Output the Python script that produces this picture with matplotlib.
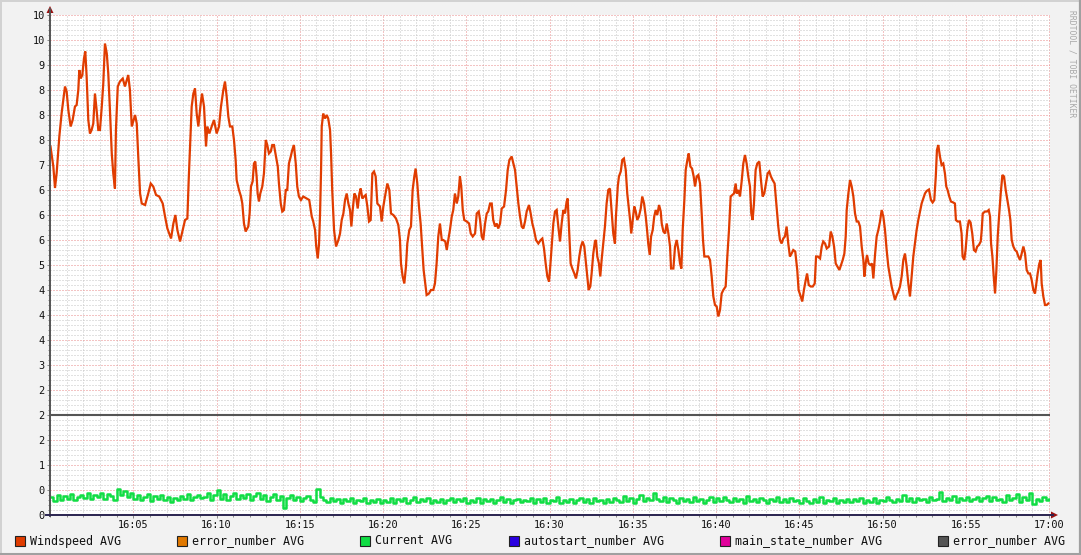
import matplotlib
matplotlib.use('Agg')
import matplotlib.pyplot as plt
from matplotlib.patches import Rectangle, Polygon
from matplotlib.lines import Line2D
from matplotlib.ticker import MultipleLocator, FuncFormatter, FixedLocator, FixedFormatter

# ---------------- data (minutes after 16:00) ----------------
wind_t = [
    0.03, 0.20, 0.30, 0.40, 0.56, 0.70, 0.90, 1.00, 1.10, 1.24,
    1.36, 1.50, 1.60, 1.70, 1.76, 1.84, 1.94, 2.04, 2.12, 2.20,
    2.30, 2.40, 2.50, 2.60, 2.70, 2.80, 2.90, 3.00, 3.11, 3.20,
    3.30, 3.41, 3.50, 3.60, 3.71, 3.80, 3.90, 3.96, 4.07, 4.20,
    4.37, 4.50, 4.70, 4.80, 4.91, 5.11, 5.21, 5.30, 5.41, 5.51,
    5.71, 5.90, 6.05, 6.20, 6.37, 6.56, 6.77, 6.91, 7.05, 7.27,
    7.41, 7.53, 7.65, 7.81, 7.97, 8.11, 8.25, 8.33, 8.41, 8.51,
    8.61, 8.71, 8.81, 8.91, 9.05, 9.13, 9.25, 9.37, 9.45, 9.57,
    9.71, 9.85, 10.01, 10.15, 10.27, 10.41, 10.51, 10.61, 10.71, 10.81,
    10.95, 11.05, 11.15, 11.21, 11.35, 11.47, 11.55, 11.65, 11.75, 11.91,
    11.99, 12.07, 12.17, 12.25, 12.33, 12.41, 12.47, 12.55, 12.63, 12.75,
    12.85, 12.96, 13.05, 13.15, 13.26, 13.35, 13.45, 13.56, 13.68, 13.75,
    13.86, 13.95, 14.05, 14.16, 14.25, 14.35, 14.46, 14.55, 14.65, 14.76,
    14.85, 14.95, 15.07, 15.21, 15.42, 15.57, 15.72, 15.81, 15.92, 15.99,
    16.08, 16.16, 16.22, 16.28, 16.32, 16.41, 16.52, 16.62, 16.71, 16.82,
    16.88, 16.95, 17.06, 17.18, 17.32, 17.42, 17.52, 17.62, 17.72, 17.82,
    17.92, 18.02, 18.10, 18.18, 18.28, 18.38, 18.48, 18.58, 18.66, 18.76,
    18.86, 18.96, 19.06, 19.16, 19.26, 19.36, 19.46, 19.56, 19.66, 19.82,
    19.92, 20.02, 20.12, 20.26, 20.38, 20.48, 20.62, 20.78, 20.92, 21.02,
    21.08, 21.18, 21.28, 21.38, 21.46, 21.58, 21.68, 21.78, 21.88, 21.96,
    22.06, 22.16, 22.26, 22.34, 22.44, 22.54, 22.62, 22.76, 22.88, 23.02,
    23.12, 23.22, 23.32, 23.42, 23.53, 23.62, 23.74, 23.83, 23.92, 24.02,
    24.13, 24.22, 24.32, 24.43, 24.52, 24.62, 24.70, 24.79, 24.88, 25.03,
    25.17, 25.27, 25.39, 25.53, 25.63, 25.75, 25.83, 25.93, 26.02, 26.13,
    26.23, 26.32, 26.43, 26.53, 26.62, 26.73, 26.83, 26.92, 27.03, 27.13,
    27.27, 27.39, 27.49, 27.59, 27.73, 27.83, 27.93, 28.03, 28.13, 28.23,
    28.33, 28.43, 28.53, 28.63, 28.77, 28.87, 28.97, 29.07, 29.19, 29.33,
    29.47, 29.57, 29.67, 29.77, 29.87, 29.97, 30.03, 30.13, 30.23, 30.33,
    30.43, 30.53, 30.63, 30.73, 30.83, 30.93, 31.03, 31.09, 31.17, 31.27,
    31.37, 31.49, 31.59, 31.69, 31.79, 31.89, 31.99, 32.09, 32.17, 32.27,
    32.35, 32.45, 32.53, 32.63, 32.73, 32.79, 32.87, 32.97, 33.05, 33.13,
    33.23, 33.33, 33.43, 33.53, 33.63, 33.74, 33.83, 33.93, 33.99, 34.10,
    34.17, 34.28, 34.37, 34.47, 34.58, 34.67, 34.78, 34.85, 34.91, 35.00,
    35.09, 35.18, 35.27, 35.37, 35.48, 35.57, 35.68, 35.78, 35.86, 35.93,
    36.02, 36.10, 36.20, 36.29, 36.38, 36.47, 36.58, 36.68, 36.74, 36.84,
    36.94, 37.04, 37.14, 37.24, 37.30, 37.44, 37.54, 37.64, 37.74, 37.84,
    37.92, 38.00, 38.10, 38.18, 38.28, 38.36, 38.46, 38.56, 38.66, 38.74,
    38.84, 38.94, 39.04, 39.14, 39.22, 39.30, 39.40, 39.54, 39.64, 39.74,
    39.84, 39.94, 40.04, 40.14, 40.24, 40.34, 40.44, 40.58, 40.68, 40.78,
    40.88, 40.98, 41.08, 41.18, 41.24, 41.34, 41.44, 41.54, 41.64, 41.74,
    41.84, 41.94, 42.04, 42.12, 42.20, 42.28, 42.38, 42.48, 42.60, 42.70,
    42.80, 42.90, 43.00, 43.10, 43.20, 43.30, 43.40, 43.52, 43.64, 43.74,
    43.84, 43.94, 44.04, 44.14, 44.24, 44.34, 44.44, 44.54, 44.64, 44.76,
    44.88, 44.96, 45.09, 45.18, 45.28, 45.39, 45.47, 45.57, 45.69, 45.81,
    45.93, 46.01, 46.11, 46.25, 46.35, 46.44, 46.55, 46.65, 46.79, 46.89,
    46.99, 47.09, 47.19, 47.29, 47.41, 47.51, 47.61, 47.71, 47.79, 47.85,
    47.95, 48.05, 48.15, 48.25, 48.35, 48.45, 48.55, 48.65, 48.75, 48.85,
    48.91, 48.99, 49.07, 49.17, 49.27, 49.37, 49.45, 49.55, 49.65, 49.75,
    49.85, 49.95, 50.05, 50.15, 50.25, 50.35, 50.45, 50.55, 50.65, 50.75,
    50.85, 50.95, 51.05, 51.15, 51.25, 51.35, 51.45, 51.55, 51.65, 51.75,
    51.85, 51.95, 52.05, 52.15, 52.25, 52.35, 52.45, 52.55, 52.65, 52.79,
    52.91, 53.01, 53.11, 53.20, 53.27, 53.35, 53.45, 53.55, 53.65, 53.75,
    53.83, 53.91, 54.01, 54.11, 54.25, 54.35, 54.41, 54.51, 54.65, 54.75,
    54.81, 54.91, 54.99, 55.09, 55.19, 55.29, 55.39, 55.49, 55.59, 55.69,
    55.79, 55.90, 55.96, 56.02, 56.16, 56.28, 56.38, 56.46, 56.52, 56.60,
    56.68, 56.76, 56.84, 56.92, 57.00, 57.10, 57.20, 57.30, 57.40, 57.50,
    57.60, 57.68, 57.76, 57.86, 57.96, 58.06, 58.16, 58.26, 58.36, 58.46,
    58.56, 58.66, 58.76, 58.86, 58.96, 59.06, 59.16, 59.24, 59.32, 59.42,
    59.50, 59.56, 59.66, 59.76, 59.86, 59.96,
]
windspeed = [
    7.37, 6.97, 6.54, 6.84, 7.57, 8.04, 8.57, 8.47, 8.10, 7.77,
    7.90, 8.17, 8.20, 8.50, 8.90, 8.73, 8.80, 9.13, 9.27, 8.77,
    7.90, 7.63, 7.70, 7.83, 8.43, 8.10, 7.70, 7.70, 8.17, 8.63,
    9.43, 9.23, 8.83, 8.10, 7.23, 6.83, 6.53, 7.70, 8.57, 8.67,
    8.73, 8.57, 8.80, 8.50, 7.77, 8.00, 7.83, 7.17, 6.43, 6.23,
    6.20, 6.43, 6.63, 6.57, 6.40, 6.37, 6.23, 5.97, 5.73, 5.53,
    5.83, 6.00, 5.70, 5.47, 5.70, 5.90, 5.93, 6.70, 7.37, 8.17,
    8.43, 8.53, 8.03, 7.77, 8.23, 8.43, 8.17, 7.37, 7.77, 7.63,
    7.77, 7.90, 7.63, 7.77, 8.17, 8.50, 8.67, 8.37, 7.97, 7.77,
    7.77, 7.50, 7.10, 6.70, 6.50, 6.37, 6.23, 5.83, 5.67, 5.77,
    6.03, 6.57, 6.67, 7.03, 7.07, 6.77, 6.43, 6.27, 6.43, 6.57,
    6.83, 7.50, 7.40, 7.23, 7.27, 7.40, 7.40, 7.20, 6.97, 6.63,
    6.23, 6.07, 6.10, 6.50, 6.50, 7.03, 7.17, 7.30, 7.40, 7.03,
    6.57, 6.37, 6.30, 6.37, 6.33, 6.30, 5.97, 5.87, 5.70, 5.37,
    5.13, 5.43, 6.03, 6.90, 7.77, 8.03, 7.93, 8.00, 7.93, 7.70,
    7.23, 6.50, 5.70, 5.37, 5.50, 5.63, 5.90, 6.03, 6.30, 6.43,
    6.23, 6.10, 5.77, 6.10, 6.43, 6.37, 6.13, 6.43, 6.53, 6.33,
    6.37, 6.40, 6.17, 5.87, 5.90, 6.83, 6.87, 6.77, 6.23, 6.17,
    5.87, 6.17, 6.37, 6.63, 6.50, 6.03, 6.00, 5.93, 5.80, 5.50,
    5.03, 4.77, 4.63, 4.97, 5.43, 5.70, 5.77, 6.50, 6.77, 6.93,
    6.63, 6.17, 5.83, 5.43, 4.90, 4.63, 4.40, 4.43, 4.50, 4.50,
    4.63, 5.03, 5.57, 5.83, 5.50, 5.50, 5.47, 5.30, 5.50, 5.70,
    5.97, 6.10, 6.43, 6.23, 6.37, 6.77, 6.57, 6.10, 5.90, 5.87,
    5.83, 5.63, 5.57, 5.63, 6.03, 6.07, 5.90, 5.57, 5.50, 5.83,
    6.03, 6.07, 6.23, 6.23, 5.90, 5.77, 5.83, 5.73, 5.83, 6.13,
    6.17, 6.50, 6.90, 7.10, 7.17, 7.03, 6.90, 6.57, 6.23, 5.97,
    5.77, 5.73, 5.87, 6.07, 6.20, 6.03, 5.83, 5.70, 5.50, 5.43,
    5.50, 5.53, 5.33, 5.03, 4.77, 4.67, 4.90, 5.37, 5.83, 6.07,
    6.10, 5.77, 5.47, 5.83, 6.10, 6.03, 6.27, 6.33, 5.77, 5.03,
    4.93, 4.83, 4.73, 4.90, 5.17, 5.37, 5.47, 5.37, 5.10, 4.77,
    4.50, 4.57, 4.83, 5.23, 5.47, 5.50, 5.17, 5.03, 4.77, 5.10,
    5.43, 5.77, 6.23, 6.50, 6.53, 6.03, 5.63, 5.43, 5.97, 6.57,
    6.77, 6.87, 7.10, 7.13, 6.90, 6.43, 6.10, 5.87, 5.63, 5.90,
    6.17, 6.07, 5.90, 5.97, 6.13, 6.37, 6.23, 5.97, 5.70, 5.43,
    5.20, 5.57, 5.70, 5.97, 6.10, 6.00, 6.20, 6.07, 5.83, 5.67,
    5.63, 5.83, 5.63, 5.37, 4.93, 4.93, 5.37, 5.50, 5.30, 5.03,
    4.93, 5.70, 6.30, 6.90, 7.10, 7.23, 6.97, 6.93, 6.77, 6.57,
    6.77, 6.80, 6.63, 6.03, 5.50, 5.17, 5.17, 5.17, 5.10, 4.77,
    4.37, 4.20, 4.17, 3.97, 4.10, 4.43, 4.50, 4.57, 5.17, 5.70,
    6.37, 6.40, 6.43, 6.63, 6.43, 6.50, 6.37, 6.67, 7.03, 7.20,
    7.03, 6.77, 6.57, 6.03, 5.90, 6.23, 6.90, 7.03, 7.07, 6.70,
    6.37, 6.43, 6.63, 6.83, 6.87, 6.77, 6.70, 6.63, 6.17, 5.77,
    5.50, 5.43, 5.53, 5.57, 5.77, 5.43, 5.17, 5.23, 5.30, 5.27,
    4.90, 4.50, 4.37, 4.27, 4.50, 4.70, 4.83, 4.60, 4.57, 4.57,
    4.63, 5.17, 5.17, 5.13, 5.37, 5.47, 5.43, 5.33, 5.37, 5.67,
    5.57, 5.37, 5.03, 4.97, 4.90, 5.00, 5.10, 5.23, 5.57, 6.10,
    6.43, 6.70, 6.57, 6.37, 6.03, 5.87, 5.87, 5.77, 5.37, 5.10,
    4.77, 5.03, 5.20, 5.03, 5.00, 5.03, 4.73, 5.20, 5.57, 5.70,
    5.87, 6.10, 5.97, 5.70, 5.30, 4.97, 4.77, 4.57, 4.43, 4.30,
    4.40, 4.47, 4.57, 4.77, 5.10, 5.23, 4.97, 4.63, 4.37, 4.77,
    5.17, 5.43, 5.70, 5.90, 6.07, 6.23, 6.33, 6.43, 6.48, 6.51,
    6.30, 6.25, 6.30, 6.77, 7.30, 7.40, 7.17, 7.00, 7.03, 6.83,
    6.57, 6.50, 6.37, 6.27, 6.25, 6.23, 5.90, 5.87, 5.87, 5.63,
    5.17, 5.10, 5.30, 5.70, 5.90, 5.85, 5.63, 5.30, 5.27, 5.37,
    5.40, 5.47, 5.70, 6.03, 6.07, 6.07, 6.10, 5.97, 5.43, 5.17,
    4.77, 4.43, 4.90, 5.57, 5.97, 6.43, 6.80, 6.77, 6.50, 6.30,
    6.10, 5.90, 5.50, 5.37, 5.30, 5.27, 5.17, 5.10, 5.23, 5.37,
    5.23, 4.90, 4.83, 4.83, 4.70, 4.50, 4.43, 4.63, 4.83, 5.03,
    5.10, 4.63, 4.37, 4.20, 4.20, 4.23,
]

# Current AVG, one reading every 0.2 min
current = [
    0.36, 0.28, 0.40, 0.30, 0.38, 0.33, 0.42, 0.30, 0.36, 0.40, 0.34, 0.44, 0.32, 0.40, 0.36, 0.45, 0.33, 0.42, 0.38, 0.30,
    0.53, 0.40, 0.48, 0.36, 0.45, 0.33, 0.40, 0.30, 0.36, 0.42, 0.28, 0.38, 0.33, 0.40, 0.30, 0.36, 0.27, 0.35, 0.30, 0.38,
    0.32, 0.42, 0.30, 0.36, 0.40, 0.34, 0.36, 0.44, 0.30, 0.40, 0.50, 0.33, 0.42, 0.30, 0.38, 0.44, 0.32, 0.40, 0.35, 0.42,
    0.30, 0.38, 0.44, 0.33, 0.40, 0.28, 0.36, 0.42, 0.30, 0.38, 0.15, 0.34, 0.40, 0.30, 0.36, 0.28, 0.34, 0.38, 0.30, 0.26,
    0.53, 0.36, 0.30, 0.26, 0.34, 0.28, 0.33, 0.25, 0.32, 0.28, 0.35, 0.24, 0.31, 0.28, 0.34, 0.25, 0.30, 0.27, 0.33, 0.24,
    0.31, 0.27, 0.35, 0.24, 0.32, 0.28, 0.34, 0.25, 0.30, 0.36, 0.26, 0.32, 0.28, 0.35, 0.24, 0.31, 0.27, 0.33, 0.25, 0.30,
    0.35, 0.26, 0.32, 0.28, 0.34, 0.24, 0.30, 0.27, 0.35, 0.25, 0.32, 0.28, 0.33, 0.24, 0.31, 0.36, 0.27, 0.32, 0.25, 0.30,
    0.33, 0.26, 0.31, 0.28, 0.35, 0.24, 0.32, 0.27, 0.34, 0.25, 0.30, 0.28, 0.36, 0.24, 0.31, 0.27, 0.33, 0.25, 0.30, 0.35,
    0.27, 0.32, 0.25, 0.34, 0.28, 0.31, 0.24, 0.33, 0.27, 0.35, 0.30, 0.26, 0.38, 0.28, 0.34, 0.25, 0.32, 0.40, 0.28, 0.35,
    0.30, 0.45, 0.33, 0.28, 0.36, 0.27, 0.34, 0.30, 0.25, 0.35, 0.28, 0.32, 0.26, 0.37, 0.29, 0.33, 0.25, 0.31, 0.36, 0.27,
    0.34, 0.28, 0.36, 0.30, 0.26, 0.35, 0.29, 0.33, 0.25, 0.38, 0.28, 0.32, 0.27, 0.35, 0.30, 0.25, 0.33, 0.28, 0.36, 0.27,
    0.32, 0.26, 0.35, 0.28, 0.31, 0.24, 0.34, 0.29, 0.25, 0.33, 0.27, 0.36, 0.25, 0.31, 0.28, 0.34, 0.24, 0.30, 0.27, 0.33,
    0.26, 0.32, 0.28, 0.35, 0.25, 0.30, 0.27, 0.34, 0.24, 0.31, 0.28, 0.36, 0.30, 0.26, 0.33, 0.28, 0.40, 0.29, 0.34, 0.27,
    0.35, 0.30, 0.33, 0.27, 0.36, 0.30, 0.32, 0.47, 0.28, 0.35, 0.30, 0.38, 0.27, 0.34, 0.30, 0.37, 0.28, 0.33, 0.36, 0.29,
    0.34, 0.38, 0.28, 0.36, 0.30, 0.33, 0.27, 0.40, 0.30, 0.35, 0.42, 0.26, 0.36, 0.31, 0.44, 0.22, 0.33, 0.28, 0.36, 0.30,
    0.32,
]
current_step = 0.2
error_number = 2.0

tick_minutes = [5, 10, 15, 20, 25, 30, 35, 40, 45, 50, 55, 60]
tick_labels = ['16:05', '16:10', '16:15', '16:20', '16:25', '16:30',
               '16:35', '16:40', '16:45', '16:50', '16:55', '17:00']

legend_labels = ['Windspeed AVG', 'error_number AVG', 'Current AVG',
                 'autostart_number AVG', 'main_state_number AVG', 'error_number AVG']
legend_colors = ['#E03C00', '#E07800', '#11DD44', '#2A00E0', '#E0009A', '#555555']

# ---------------- figure ----------------
W, H = 1081, 555
MONO = 'DejaVu Sans Mono'
fig = plt.figure(figsize=(W / 100, H / 100), dpi=100, facecolor='#F2F2F2')


def fx(px):
    return px / W


def fy(py):
    return 1 - py / H


ax = fig.add_axes([fx(50), fy(515), 1000 / W, 500 / H])
ax.set_facecolor('white')
ax.set_xlim(0, 60 * 1000 / 999)
ax.set_ylim(0, 10)

ax.xaxis.set_major_locator(FixedLocator(tick_minutes))
ax.xaxis.set_major_formatter(FixedFormatter(tick_labels))
ax.xaxis.set_minor_locator(MultipleLocator(1))
ax.yaxis.set_major_locator(MultipleLocator(0.5))
ax.yaxis.set_minor_locator(MultipleLocator(0.1))
ax.yaxis.set_major_formatter(FuncFormatter(lambda v, p: '%.0f' % v))

ax.grid(which='minor', color='#C4C4C4', linestyle=(0, (1, 2)), linewidth=0.72)
ax.grid(which='major', color='#E88888', linestyle=(0, (1, 2)), linewidth=0.72)
ax.set_axisbelow(True)

for s in ax.spines.values():
    s.set_visible(False)

ax.tick_params(which='both', colors='#888888', labelcolor='#111111',
               labelsize=7.4, direction='out')
ax.tick_params(which='major', length=2.2, width=0.7, pad=1.6)
ax.tick_params(which='minor', length=1.4, width=0.7)
for lab in ax.get_xticklabels() + ax.get_yticklabels():
    lab.set_family(MONO)

# series
ax.plot([0, 60.06], [error_number, error_number], color='#555555', lw=1.5,
        solid_capstyle='butt', zorder=3)
cur_t = [i * current_step for i in range(len(current))]
ax.plot(cur_t, current, color=legend_colors[2], lw=1.8, drawstyle='steps-post',
        zorder=4)
ax.plot(wind_t, windspeed, color=legend_colors[0], lw=1.6, zorder=5,
        solid_joinstyle='miter')

# axes lines and arrows (figure pixel layout)
fig.add_artist(Line2D([fx(50), fx(50)], [fy(516), fy(9)], color='#555555', lw=1.4))
fig.add_artist(Line2D([fx(46), fx(1053)], [fy(515), fy(515)], color='#2A2450', lw=1.4))
fig.add_artist(Polygon([[fx(46.5), fy(13)], [fx(53.5), fy(13)], [fx(50), fy(6)]],
                       closed=True, color='#9A1010', lw=0))
fig.add_artist(Polygon([[fx(1051), fy(511.5)], [fx(1051), fy(518.5)], [fx(1058), fy(515)]],
                       closed=True, color='#9A1010', lw=0))

# legend
legend_x = [15, 177, 360, 509, 720, 938]
for lab, col, x0 in zip(legend_labels, legend_colors, legend_x):
    fig.add_artist(Rectangle((fx(x0), fy(546)), 10 / W, 10 / H, facecolor=col,
                             edgecolor='#222222', lw=0.8))
    fig.text(fx(x0 + 15), fy(541), lab, family=MONO, fontsize=8.4,
             color='#111111', va='center', ha='left')

# watermark
fig.text(fx(1072), fy(64), 'RRDTOOL / TOBI OETIKER', family=MONO, fontsize=5.8,
         color='#A8A8A8', rotation=270, va='center', ha='center')

# frame
fig.add_artist(Line2D([0, 1], [fy(0.5), fy(0.5)], color='#D2D2D2', lw=1.4))
fig.add_artist(Line2D([fx(0.5), fx(0.5)], [0, 1], color='#D2D2D2', lw=1.4))
fig.add_artist(Line2D([0, 1], [fy(553.5), fy(553.5)], color='#A0A0A0', lw=2.2))
fig.add_artist(Line2D([fx(1079.8), fx(1079.8)], [0, 1], color='#A0A0A0', lw=1.6))

fig.savefig('out.png', dpi=100, facecolor=fig.get_facecolor())
